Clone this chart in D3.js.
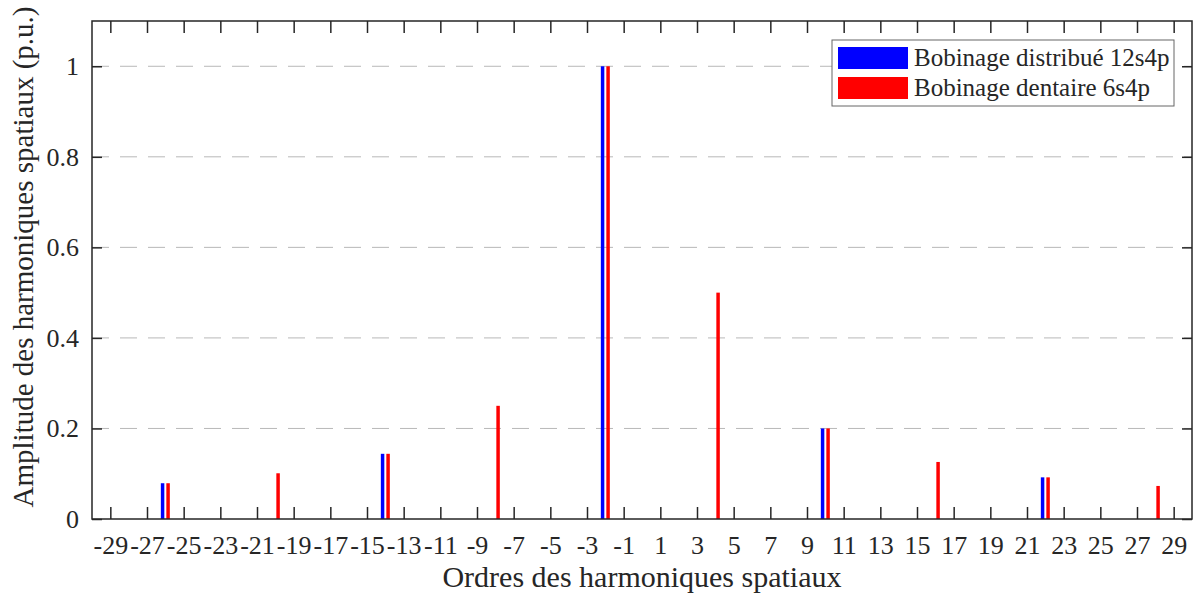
<!DOCTYPE html>
<html><head><meta charset="utf-8">
<script src="https://cdn.jsdelivr.net/npm/d3@7"></script>
<style>body{margin:0;background:#fff}svg{display:block}text{font-family:"Liberation Serif","Times New Roman",serif;fill:#262626}</style>
</head><body><svg id="c" width="1199" height="602"></svg>
<script>
const orders = [-26, -20, -14, -8, -2, 4, 10, 16, 22, 28];
const distribue = [0.079, 0, 0.144, 0, 1.0, 0, 0.2, 0, 0.092, 0];
const dentaire = [0.079, 0.101, 0.144, 0.25, 1.0, 0.5, 0.2, 0.126, 0.092, 0.073];
const seriesNames = ["Bobinage distribué 12s4p", "Bobinage dentaire 6s4p"];
const seriesColors = ["#0000ff", "#ff0000"];
const xTicks = d3.range(-29, 30, 2);
const yTicks = [0, 0.2, 0.4, 0.6, 0.8, 1];

const svg = d3.select("#c");
const L = 92, R = 1192, T = 21, B = 519;
const x = d3.scaleLinear().domain([-30, 30]).range([L, R]);
const y = d3.scaleLinear().domain([0, 1.1]).range([B, T]);

// grid
svg.append("g").selectAll("line").data(yTicks.filter(d => d > 0)).join("line")
  .attr("x1", L).attr("x2", R).attr("y1", d => y(d)).attr("y2", d => y(d))
  .attr("stroke", "#b8b8b8").attr("stroke-width", 1).attr("stroke-dasharray", "17,11");

// bars
const off = 0.15, bw = 0.19;
const series = [distribue, dentaire];
series.forEach((vals, si) => {
  svg.append("g").selectAll("rect").data(orders.map((o, i) => ({o, v: vals[i]})).filter(d => d.v > 0)).join("rect")
    .attr("x", d => x(d.o + (si === 0 ? -off : off) - bw / 2))
    .attr("width", d => x(d.o + bw / 2) - x(d.o - bw / 2))
    .attr("y", d => y(d.v))
    .attr("height", d => y(0) - y(d.v))
    .attr("fill", seriesColors[si]);
});

// axes
const ax = "#262626";
const fmtX = d => String(d);
const xb = svg.append("g").attr("transform", `translate(0,${B})`)
  .call(d3.axisBottom(x).tickValues(xTicks).tickSize(-12).tickPadding(17).tickFormat(fmtX));
const xt = svg.append("g").attr("transform", `translate(0,${T})`)
  .call(d3.axisTop(x).tickValues(xTicks).tickSize(-12).tickFormat(""));
const yl = svg.append("g").attr("transform", `translate(${L},0)`)
  .call(d3.axisLeft(y).tickValues(yTicks).tickSize(-10).tickPadding(13).tickFormat(d => String(d)));
const yr = svg.append("g").attr("transform", `translate(${R},0)`)
  .call(d3.axisRight(y).tickValues(yTicks).tickSize(-10).tickFormat(""));
[xb, xt, yl, yr].forEach(g => {
  g.attr("font-family", null).attr("font-size", null);
  g.select(".domain").remove();
  g.selectAll("line").attr("stroke", ax).attr("stroke-width", 1.5);
  g.selectAll("text").style("font-size", "26px").attr("fill", ax);
});
svg.append("rect").attr("x", L).attr("y", T).attr("width", R - L).attr("height", B - T)
  .attr("fill", "none").attr("stroke", ax).attr("stroke-width", 1.5);

// labels
svg.append("text").attr("x", x(0)).attr("y", 587).attr("text-anchor", "middle")
  .style("font-size", "30px").text("Ordres des harmoniques spatiaux");
svg.append("text").attr("transform", `translate(33,257) rotate(-90)`).attr("text-anchor", "middle")
  .style("font-size", "29px").text("Amplitude des harmoniques spatiaux (p.u.)");

// legend
const lg = svg.append("g");
lg.append("rect").attr("x", 832).attr("y", 40).attr("width", 342).attr("height", 66)
  .attr("fill", "#fff").attr("stroke", "#666").attr("stroke-width", 1);
seriesNames.forEach((n, i) => {
  lg.append("rect").attr("x", 838).attr("y", 47 + i * 30).attr("width", 70).attr("height", 22).attr("fill", seriesColors[i]);
  lg.append("text").attr("x", 914).attr("y", 66 + i * 30).style("font-size", "25px").attr("fill", "#000").text(n);
});
</script></body></html>
